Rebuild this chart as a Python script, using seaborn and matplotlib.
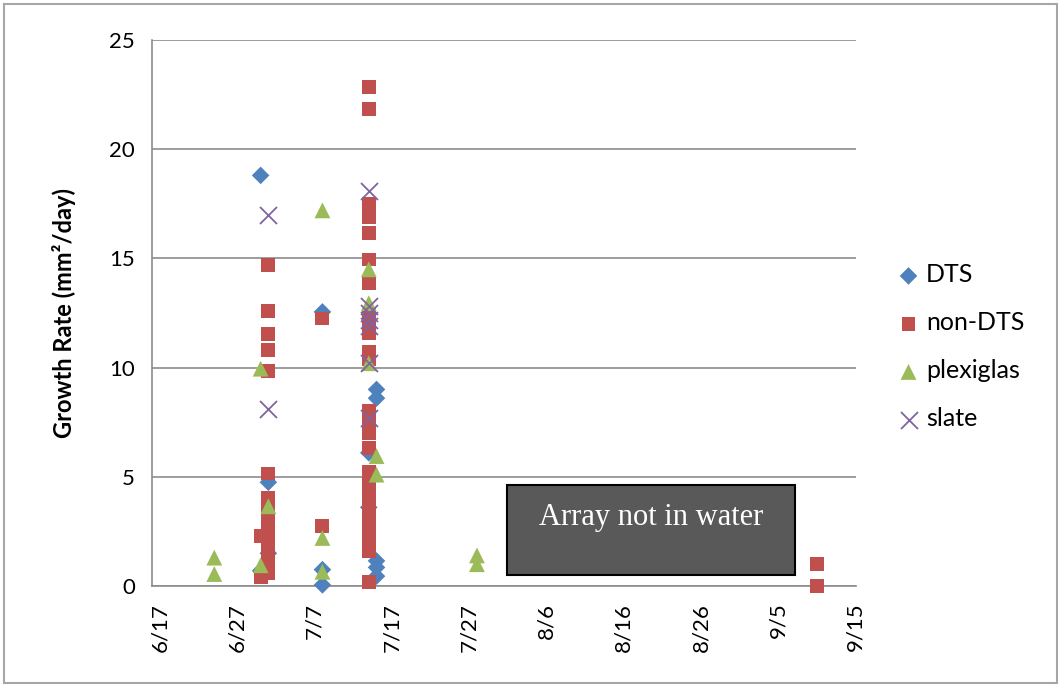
import pandas as pd
import matplotlib.pyplot as plt
import matplotlib.dates as mdates
from matplotlib.patches import Rectangle
import seaborn as sns

# growth rate measurements per substrate (mm^2/day)
dts_dates = ['6/30', '7/1', '7/1', '6/30', '7/8', '7/8', '7/8', '7/14', '7/14',
             '7/15', '7/15', '7/15', '7/15', '7/15']
dts_vals = [18.8, 4.75, 1.5, 0.7, 12.55, 0.75, 0.05, 6.1, 3.6,
            9.0, 8.6, 1.15, 0.85, 0.45]

nondts_dates = ['6/30', '6/30'] + ['7/1'] * 14 + ['7/8', '7/8'] + ['7/14'] * 28 + ['9/10', '9/10']
nondts_vals = [2.3, 0.4,
               14.7, 12.6, 11.55, 10.8, 9.85, 5.15, 4.05, 3.5, 3.0, 2.5, 2.0, 1.5, 1.0, 0.6,
               12.25, 2.75,
               22.85, 21.85, 17.5, 17.2, 16.9, 16.15, 14.95, 13.85, 12.4, 12.0, 11.6, 10.7,
               10.4, 8.0, 7.5, 7.0, 6.3, 5.2, 4.8, 4.3, 3.9, 3.5, 3.1, 2.7, 2.3, 1.9, 1.6, 0.2,
               1.0, 0.0]

plexi_dates = ['6/24', '6/24', '6/30', '6/30', '7/1', '7/8', '7/8', '7/8',
               '7/14', '7/14', '7/14', '7/15', '7/15', '7/28', '7/28']
plexi_vals = [1.3, 0.55, 9.95, 0.95, 3.65, 17.2, 2.2, 0.65,
              14.5, 12.95, 10.2, 5.95, 5.1, 1.4, 1.0]

slate_dates = ['7/1', '7/1', '7/14', '7/14', '7/14', '7/14', '7/14', '7/14', '7/14']
slate_vals = [17.0, 8.1, 18.1, 12.8, 12.5, 12.2, 11.9, 10.2, 7.7]

series = ['DTS', 'non-DTS', 'plexiglas', 'slate']
y_ticks = [0, 5, 10, 15, 20, 25]

frames = []
for name, d, v in zip(series,
                      [dts_dates, nondts_dates, plexi_dates, slate_dates],
                      [dts_vals, nondts_vals, plexi_vals, slate_vals]):
    frames.append(pd.DataFrame({'date': pd.to_datetime([x + '/2013' for x in d], format='%m/%d/%Y'),
                                'rate': v, 'series': name}))
df = pd.concat(frames, ignore_index=True)

sns.set_style('white')
plt.rcParams['font.family'] = ['Lato', 'DejaVu Sans']

fig = plt.figure(figsize=(10.61, 6.87), dpi=100)
ax = fig.add_axes([151.5 / 1061, 1 - 586 / 687, 704 / 1061, 546 / 687])

styles = {
    'DTS': dict(marker='D', color='#4F81BD', s=80),
    'non-DTS': dict(marker='s', color='#C0504D', s=100),
    'plexiglas': dict(marker='^', color='#9BBB59', s=130),
    'slate': dict(marker='x', color='#8064A2', s=150),
}
for name in series:
    st = styles[name]
    sub = df[df['series'] == name]
    kw = dict(linewidth=1.3) if name == 'slate' else dict(edgecolor='none')
    sns.scatterplot(data=sub, x='date', y='rate', ax=ax, marker=st['marker'],
                    color=st['color'], s=st['s'], label=name, clip_on=False,
                    zorder=3, **kw)

start = pd.Timestamp('2013-06-17')
end = pd.Timestamp('2013-09-15')
ax.set_xlim(start - pd.Timedelta(hours=27), end)
ax.set_xticks(pd.date_range(start, end, freq='10D'))
ax.xaxis.set_major_formatter(plt.FuncFormatter(
    lambda v, p: f"{mdates.num2date(v).month}/{mdates.num2date(v).day}"))
ax.set_ylim(0, 25)
ax.set_yticks(y_ticks)

ax.yaxis.grid(True, color='#8c8c8c', linewidth=1.2)
ax.xaxis.grid(False)
for s in ['top', 'right']:
    ax.spines[s].set_visible(False)
for s in ['left', 'bottom']:
    ax.spines[s].set_color('#8c8c8c')
    ax.spines[s].set_linewidth(1.2)
ax.tick_params(axis='both', direction='out', length=6, width=1.2, color='#8c8c8c',
               labelsize=16, labelcolor='black', pad=6)
ax.tick_params(axis='x', rotation=90)
ax.set_xlabel('')
ax.set_ylabel('Growth Rate (mm²/day)', fontsize=17, fontweight='bold', color='black')
ax.yaxis.set_label_coords(-0.107, 0.5)

# gray box over the dry period
ax.add_patch(Rectangle((0.505, 0.02), 0.409, 0.165, transform=ax.transAxes,
                       facecolor='#595959', edgecolor='black', linewidth=1.5, zorder=4))
ax.text(0.71, 0.126, 'Array not in water', transform=ax.transAxes, ha='center',
        va='center', color='white', fontsize=22, family='Liberation Serif', zorder=5)

ax.legend_.remove()
handles, labels = ax.get_legend_handles_labels()
fig.legend(handles, labels, loc='center left', bbox_to_anchor=(871 / 1061, 1 - 347 / 687),
           frameon=False, fontsize=18, labelspacing=1.0, handletextpad=0.1,
           handlelength=1.2, labelcolor='black')

# outer chart border
fig.add_artist(Rectangle((4 / 1061, 4 / 687), 1053 / 1061, 679 / 687, transform=fig.transFigure,
                         fill=False, edgecolor='#a6a6a6', linewidth=1.5))

fig.savefig('out.png', dpi=100)
